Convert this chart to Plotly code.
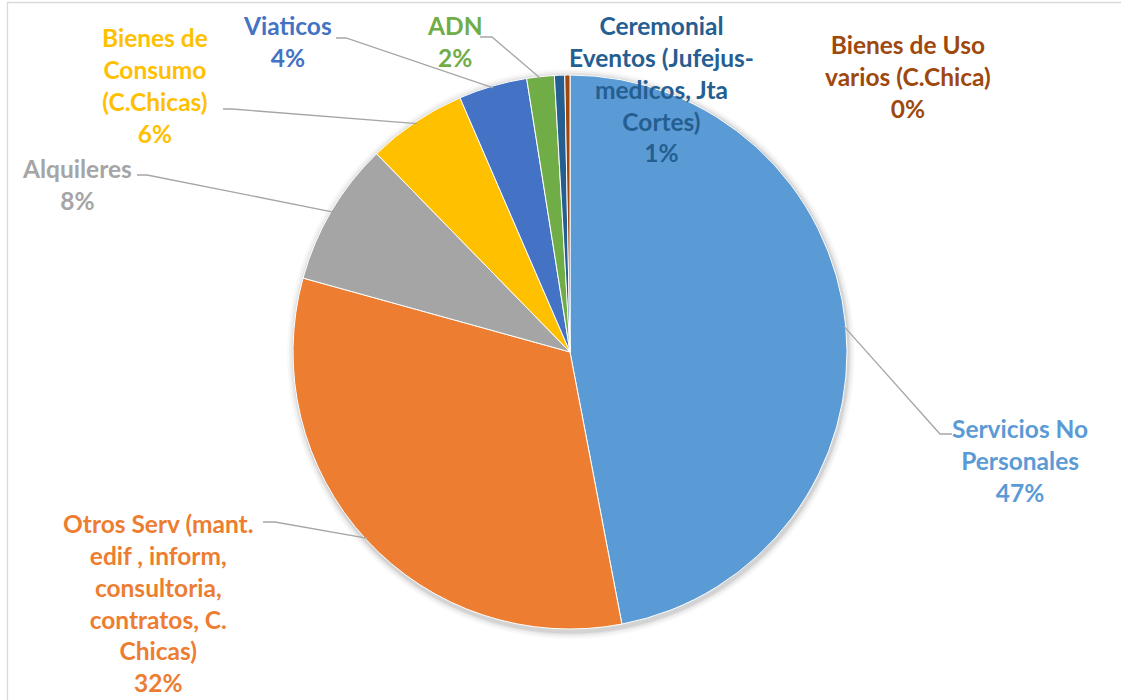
import math
import plotly.graph_objects as go

# ---- data ----
categories = [
    "Servicios No Personales",
    "Otros Serv (mant. edif , inform, consultoria, contratos, C. Chicas)",
    "Alquileres",
    "Bienes de Consumo (C.Chicas)",
    "Viaticos",
    "ADN",
    "Ceremonial Eventos (Jufejus-medicos, Jta Cortes)",
    "Bienes de Uso varios (C.Chica)",
]
values = [47.0, 32.3, 8.4, 5.8, 4.0, 1.6, 0.6, 0.3]
label_lines = [
    "Servicios No<br>Personales",
    "Otros Serv (mant.<br>edif , inform,<br>consultoria,<br>contratos, C.<br>Chicas)",
    "Alquileres",
    "Bienes de<br>Consumo<br>(C.Chicas)",
    "Viaticos",
    "ADN",
    "Ceremonial<br>Eventos (Jufejus-<br>medicos, Jta<br>Cortes)",
    "Bienes de Uso<br>varios (C.Chica)",
]
colors = ["#5B9BD5", "#ED7D31", "#A5A5A5", "#FFC000", "#4472C4", "#70AD47", "#255E91", "#9E480E"]

# ---- layout geometry (pixels) ----
W, H = 1121, 700
CX, CY, R = 570, 352, 277

def px(x):
    return x / W

def py(y):
    return 1 - y / H

# label centres (pixels)
label_pos = [(1020, 460), (158, 603), (77, 184), (155, 85), (287, 41), (455, 41), (661, 89), (908, 77)]
# leader anchors: (text end, elbow) in pixels, None if no leader
leaders = [
    ((952, 434), (940, 434)),
    ((263, 522), (275, 522)),
    ((137, 175), (147, 175)),
    ((223, 109), (232, 109)),
    ((336, 38), (346, 38)),
    ((480, 37), (492, 37)),
    None,
    None,
]

total = sum(values)
fig = go.Figure()

# soft shadow
shapes = []
for i, (dr, op) in enumerate([(7, 0.025), (5, 0.035), (3, 0.05), (1.5, 0.07)]):
    shapes.append(dict(type="circle", xref="paper", yref="paper", layer="below",
                       x0=px(CX - R - dr + 1), x1=px(CX + R + dr + 1),
                       y0=py(CY + R + dr + 3), y1=py(CY - R - dr + 1),
                       line=dict(width=0), fillcolor=f"rgba(0,0,0,{op})"))

fig.add_trace(go.Pie(
    labels=categories, values=values, sort=False, direction="clockwise", rotation=0,
    marker=dict(colors=colors, line=dict(color="white", width=1)),
    textinfo="none", hoverinfo="label+percent", showlegend=False,
    domain=dict(x=[px(CX - R), px(CX + R)], y=[py(CY + R), py(CY - R)]),
))

annotations = []
cum = 0.0
for i, v in enumerate(values):
    mid = (cum + v / 2) / total * 2 * math.pi
    cum += v
    ex = CX + (R - 2) * math.sin(mid)
    ey = CY - (R - 2) * math.cos(mid)
    pct = round(v / total * 100)
    lx, ly = label_pos[i]
    annotations.append(dict(
        x=px(lx), y=py(ly), xref="paper", yref="paper", showarrow=False,
        xanchor="center", yanchor="middle", align="center",
        text=f"<b>{label_lines[i]}<br>{pct}%</b>",
        font=dict(family="Lato", size=24.5, color=colors[i]),
    ))
    if leaders[i] is not None:
        (ax, ay), (bx, by) = leaders[i]
        shapes.append(dict(type="path", xref="paper", yref="paper",
                           path=f"M {px(ax)} {py(ay)} L {px(bx)} {py(by)} L {px(ex)} {py(ey)}",
                           line=dict(color="#A6A6A6", width=1.3)))

# outer chart border
shapes.append(dict(type="rect", xref="paper", yref="paper",
                   x0=px(7.5), x1=1.02, y0=-0.02, y1=py(2.5),
                   line=dict(color="#D9D9D9", width=1.3), fillcolor="rgba(0,0,0,0)"))

fig.update_layout(
    width=W, height=H, autosize=False,
    margin=dict(l=0, r=0, t=0, b=0),
    paper_bgcolor="white", plot_bgcolor="white",
    shapes=shapes, annotations=annotations,
)

fig.write_html("out.html", config={"displayModeBar": False},
               post_script="document.body.style.margin='0';")
